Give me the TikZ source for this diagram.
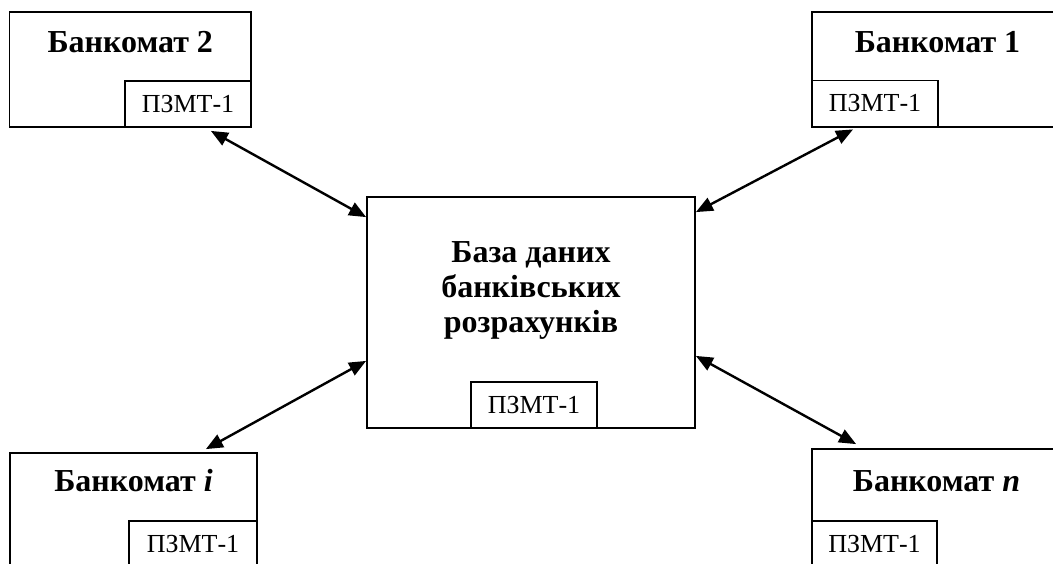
\documentclass[tikz,border=0pt]{standalone}
\usepackage{fontspec}
\setmainfont{Liberation Serif}
\usetikzlibrary{arrows.meta}

\tikzset{
  bigbox/.style={draw, line width=1.8pt, inner sep=0pt},
  pzbox/.style={draw, fill=white, line width=1.8pt, inner sep=0pt,
    minimum width=126pt, minimum height=46pt,
    font=\fontsize{26}{30}\selectfont},
  title/.style={anchor=base, inner sep=0pt,
    font=\fontsize{32}{35}\selectfont\bfseries},
  link/.style={{Triangle[length=17pt,width=14pt]}-{Triangle[length=17pt,width=14pt]}, line width=2.4pt}
}

\begin{document}
\begin{tikzpicture}[x=1pt,y=-1pt]
  \useasboundingbox (0,0) rectangle (1053,563);
  \clip (0,0) rectangle (1053,563);

  % outer boxes
  \node[bigbox, minimum width=241.5pt, minimum height=115pt] (bank2) at (130.25,69.5) {};
  \node[bigbox, minimum width=251pt, minimum height=115pt] (bank1) at (937.5,69.5) {};
  \node[bigbox, minimum width=247pt, minimum height=122pt] (banki) at (133.5,514) {};
  \node[bigbox, minimum width=249pt, minimum height=126pt] (bankn) at (936.5,512) {};
  \node[bigbox, minimum width=328pt, minimum height=231pt] (db) at (531,312.5) {};

  % titles
  \node[title] (t2) at ([yshift=-41pt]bank2.north) {Банкомат 2};
  \node[title] (t1) at ([yshift=-41pt]bank1.north) {Банкомат 1};
  \node[title] (ti) at ([yshift=-39pt]banki.north) {Банкомат \textit{i}};
  \node[title] (tn) at ([yshift=-43pt]bankn.north) {Банкомат \textit{n}};
  \node[title, anchor=north, align=center] (tdb) at ([yshift=-45pt]db.north)
    {База даних\\банківських\\розрахунків};

  % inner boxes
  \node[pzbox] (p2) at (188,104) {ПЗМТ-1};
  \node[pzbox] (p1) at (875,103.5) {ПЗМТ-1};
  \node[pzbox, minimum width=128pt] (pi) at (193,544) {ПЗМТ-1};
  \node[pzbox, minimum width=125pt] (pn) at (874.5,544) {ПЗМТ-1};
  \node[pzbox] (pdb) at (534,405) {ПЗМТ-1};

  % links
  \draw[link] ([xshift=-41pt,yshift=-3pt]bank2.south east) -- ([yshift=-21pt]db.north west);
  \draw[link] ([xshift=-22pt,yshift=-2pt]p1.south) -- ([yshift=-16pt]db.north east);
  \draw[link] ([xshift=-52pt,yshift=3pt]banki.north east) -- ([yshift=68pt]db.south west);
  \draw[link] ([xshift=45pt,yshift=4pt]bankn.north west) -- ([yshift=73pt]db.south east);
\end{tikzpicture}
\end{document}
